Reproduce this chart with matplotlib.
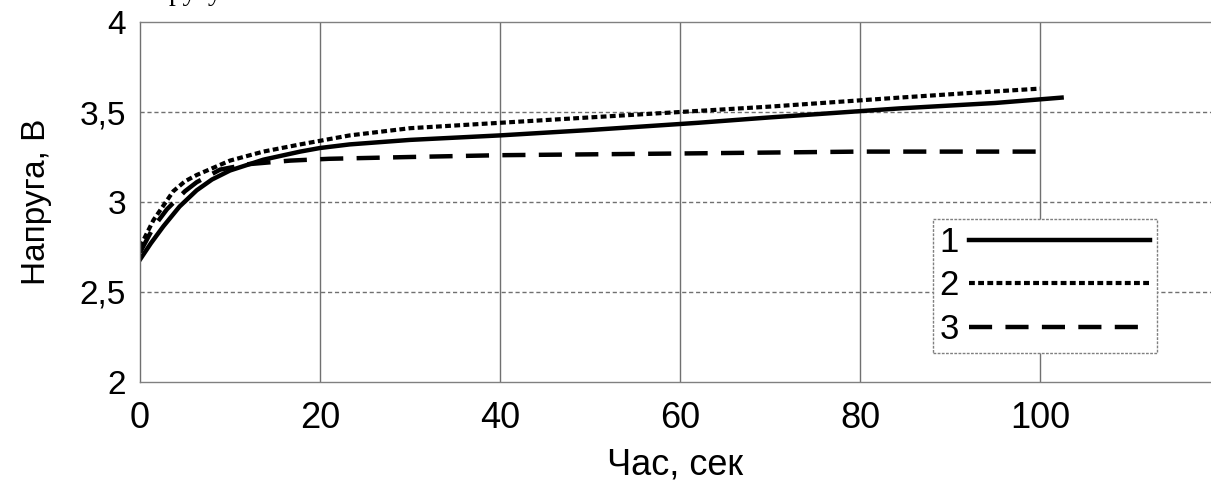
import numpy as np
import matplotlib.pyplot as plt

# curve data
t1 = [0, 1.2, 2.6, 4.4, 6.3, 8, 10, 13.7, 17.8, 20, 23.3, 30, 40, 50, 62, 70, 84.4, 95, 102.4]
v1 = [2.68, 2.77, 2.865, 2.975, 3.065, 3.125, 3.175, 3.235, 3.28, 3.30, 3.32, 3.345, 3.37, 3.40, 3.44, 3.47, 3.52, 3.55, 3.58]

t2 = [0, 1.5, 3.7, 5, 6.3, 10, 13.7, 17.8, 20, 23.3, 30, 40, 50, 60, 70, 84.4, 92, 100]
v2 = [2.75, 2.90, 3.06, 3.115, 3.15, 3.23, 3.28, 3.32, 3.34, 3.37, 3.41, 3.44, 3.47, 3.50, 3.53, 3.58, 3.605, 3.63]

t3 = [0, 1.5, 3, 5, 6.3, 8.9, 12, 16.7, 21, 30, 40, 61, 80, 100]
v3 = [2.72, 2.86, 2.96, 3.06, 3.11, 3.18, 3.21, 3.23, 3.24, 3.25, 3.26, 3.27, 3.28, 3.28]

series_labels = ['1', '2', '3']
xticks = [0, 20, 40, 60, 80, 100]
yticks = [2, 2.5, 3, 3.5, 4]
ytick_labels = ['2', '2,5', '3', '3,5', '4']

plt.rcParams['font.family'] = ['Liberation Sans', 'DejaVu Sans']

fig = plt.figure(figsize=(12.11, 4.86), dpi=100)
ax = fig.add_axes([140/1211, 1 - 382/486, 1 - 140/1211, 360/486])

ax.plot(t1, v1, color='black', lw=3.2, ls='-', label=series_labels[0])
ax.plot(t2, v2, color='black', lw=3, ls=(0, (1.4, 0.8)), label=series_labels[1])
ax.plot(t3, v3, color='black', lw=3.2, ls=(0, (5.2, 3.0)), label=series_labels[2])

ax.set_xlim(0, 1071/9)
ax.set_ylim(2, 4)
ax.set_xticks(xticks)
ax.set_yticks(yticks)
ax.set_yticklabels(ytick_labels)
ax.tick_params(length=0, labelsize=24)
ax.tick_params(axis='x', pad=14, labelsize=26)
ax.tick_params(axis='y', pad=10)

# grid: vertical solid, horizontal dotted
for x in xticks[1:]:
    ax.axvline(x, color='#707070', lw=1, zorder=0)
for y in [2.5, 3, 3.5]:
    ax.axhline(y, color='#707070', lw=1, ls=(0, (3, 2)), zorder=0)

ax.spines['right'].set_visible(False)
ax.spines['left'].set_color('#707070')
ax.spines['top'].set_color('#808080')
ax.spines['top'].set_linestyle((0, (8, 1)))
ax.spines['bottom'].set_color('#808080')
ax.spines['bottom'].set_linestyle((0, (2, 1)))
for s in ['left', 'top', 'bottom']:
    ax.spines[s].set_linewidth(1)

ax.set_xlabel('Час, сек', fontsize=26, labelpad=8)
ax.set_ylabel('Напруга, В', fontsize=24, labelpad=20)

leg = ax.legend(loc='lower left', bbox_to_anchor=(0.74, 0.081), fontsize=25,
                markerfirst=False, handlelength=5.2, handletextpad=0.3,
                labelspacing=0.3, borderpad=0.2, borderaxespad=0,
                fancybox=False, framealpha=1)
leg.get_frame().set_edgecolor('#808080')
leg.get_frame().set_linestyle((0, (2, 1)))
leg.get_frame().set_linewidth(1)

# cut-off caption from above
fig.text(222/1211, 1.0, 'напругу', fontsize=20, family='Liberation Serif',
         ha='right', va='baseline')

fig.savefig('out.png', dpi=100)
